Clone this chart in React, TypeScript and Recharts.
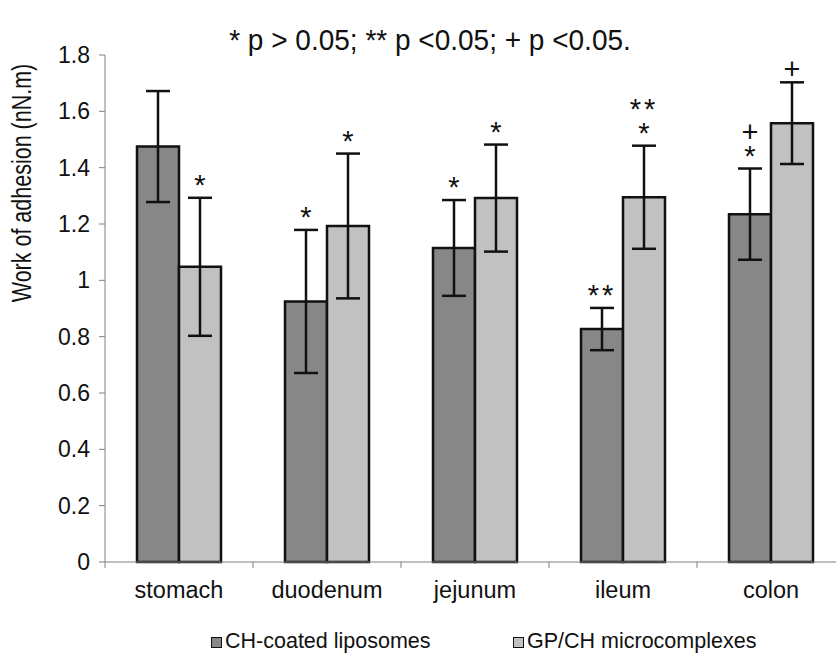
import { BarChart, Bar, XAxis, YAxis, ErrorBar, LabelList, Legend } from "recharts";

const categories = ["stomach", "duodenum", "jejunum", "ileum", "colon"];
const chLiposomes = [1.475, 0.925, 1.115, 0.827, 1.235];
const chErr = [0.197, 0.254, 0.17, 0.075, 0.162];
const gpMicrocomplexes = [1.048, 1.193, 1.292, 1.295, 1.558];
const gpErr = [0.245, 0.257, 0.19, 0.183, 0.145];
const chMarks = ["", "*", "*", "**", "+\n*"];
const gpMarks = ["*", "*", "*", "**\n*", "+"];
const yTicks = [0, 0.2, 0.4, 0.6, 0.8, 1, 1.2, 1.4, 1.6, 1.8];
const seriesNames = ["CH-coated liposomes", "GP/CH microcomplexes"];
const seriesColors = ["#878787", "#c1c1c1"];
const title = "* p > 0.05; ** p <0.05; + p <0.05.";
const yTitle = "Work of adhesion (nN.m)";

const data = categories.map((name, i) => ({
  name,
  ch: chLiposomes[i],
  chErr: chErr[i],
  chMark: chMarks[i],
  gp: gpMicrocomplexes[i],
  gpErr: gpErr[i],
  gpMark: gpMarks[i],
}));

const FONT = '"Liberation Sans", Arial, sans-serif';

// significance marks sit just above the error bar cap
function markRenderer(values: number[], errs: number[]) {
  return (props: any) => {
    const { x, y, width, height, value, index } = props;
    if (!value) return null;
    const v = values[index];
    const pxPerUnit = Number(height) / v;
    const capY = Number(y) - errs[index] * pxPerUnit;
    const lines = String(value).split("\n");
    const cx = Number(x) + Number(width) / 2;
    const firstY = capY - 3 - (lines.length - 1) * 24;
    return (
      <text x={cx} y={firstY} textAnchor="middle" fontFamily={FONT} fontSize={29} fill="#111">
        {lines.map((line, k) => (
          <tspan key={k} x={cx} dy={k === 0 ? 0 : 24} letterSpacing={line === "**" ? 3 : 0}>
            {line}
          </tspan>
        ))}
      </text>
    );
  };
}

function CategoryTick(props: any) {
  const { x, y, payload } = props;
  const half = payload && payload.offset ? payload.offset : 74;
  const axisY = y - 6;
  return (
    <g>
      <line x1={x - half} x2={x - half} y1={axisY} y2={axisY + 6} stroke="#808080" strokeWidth={1} />
      <text x={x} y={axisY + 36} textAnchor="middle" fontFamily={FONT} fontSize={23.5} fill="#111">
        {payload.value}
      </text>
    </g>
  );
}

function YTitle(props: any) {
  const vb = props.viewBox || { x: 0, y: 55 };
  const cx = vb.x + 22;
  const cy = vb.y + 128;
  return (
    <text
      transform={`translate(${cx} ${cy}) rotate(-90) scale(1 1.25)`}
      textAnchor="middle"
      dominantBaseline="central"
      fontFamily={FONT}
      fontSize={21.5}
      fill="#111"
    >
      {yTitle}
    </text>
  );
}

function LegendBox() {
  const lefts = [211, 513];
  return (
    <div style={{ position: "relative", width: 836, height: 38, fontFamily: FONT, fontSize: 21.5, color: "#111" }}>
      {seriesNames.map((n, i) => (
        <div key={n} style={{ position: "absolute", left: lefts[i], top: 9, whiteSpace: "nowrap", lineHeight: "24px" }}>
          <span
            style={{
              display: "inline-block",
              width: 9,
              height: 9,
              background: seriesColors[i],
              border: "1.5px solid #111",
              marginRight: 3,
            }}
          />
          {n}
        </div>
      ))}
    </div>
  );
}

export default function App() {
  return (
    <div
      style={{
        position: "absolute",
        left: 0,
        top: 0,
        width: 836,
        height: 658,
        overflow: "hidden",
        background: "#fff",
      }}
    >
      <div
        style={{
          position: "absolute",
          left: 0,
          width: 860,
          top: 22,
          textAlign: "center",
          fontFamily: FONT,
          fontSize: 28,
          lineHeight: "36px",
          color: "#111",
          zIndex: 2,
        }}
      >
        <span style={{ display: "inline-block", transform: "scale(1, 1.08)" }}>{title}</span>
      </div>
      <BarChart
        width={860}
        height={658}
        data={data}
        margin={{ top: 55, right: 15, left: 0, bottom: 18 }}
        barGap={0}
        barSize={42}
      >
        <XAxis
          dataKey="name"
          height={40}
          tickLine={false}
          tickSize={6}
          tickMargin={0}
          axisLine={{ stroke: "#808080", strokeWidth: 1 }}
          tick={<CategoryTick />}
          interval={0}
        />
        <YAxis
          width={105}
          domain={[0, 1.8]}
          ticks={yTicks}
          tickSize={6}
          tickMargin={9}
          axisLine={{ stroke: "#808080", strokeWidth: 1 }}
          tickLine={{ stroke: "#808080", strokeWidth: 1 }}
          tick={{ fontFamily: FONT, fontSize: 23, fill: "#111" }}
          label={<YTitle />}
        />
        <Legend
          verticalAlign="bottom"
          height={38}
          wrapperStyle={{ left: 0, top: 620, bottom: "auto", width: 836, height: 38 }}
          content={() => <LegendBox />}
        />
        <Bar dataKey="ch" name={seriesNames[0]} fill={seriesColors[0]} stroke="#111" strokeWidth={2.5} isAnimationActive={false}>
          <ErrorBar dataKey="chErr" width={12} strokeWidth={2.5} stroke="#111" direction="y" />
          <LabelList dataKey="chMark" content={markRenderer(chLiposomes, chErr)} />
        </Bar>
        <Bar dataKey="gp" name={seriesNames[1]} fill={seriesColors[1]} stroke="#111" strokeWidth={2.5} isAnimationActive={false}>
          <ErrorBar dataKey="gpErr" width={12} strokeWidth={2.5} stroke="#111" direction="y" />
          <LabelList dataKey="gpMark" content={markRenderer(gpMicrocomplexes, gpErr)} />
        </Bar>
      </BarChart>
    </div>
  );
}
